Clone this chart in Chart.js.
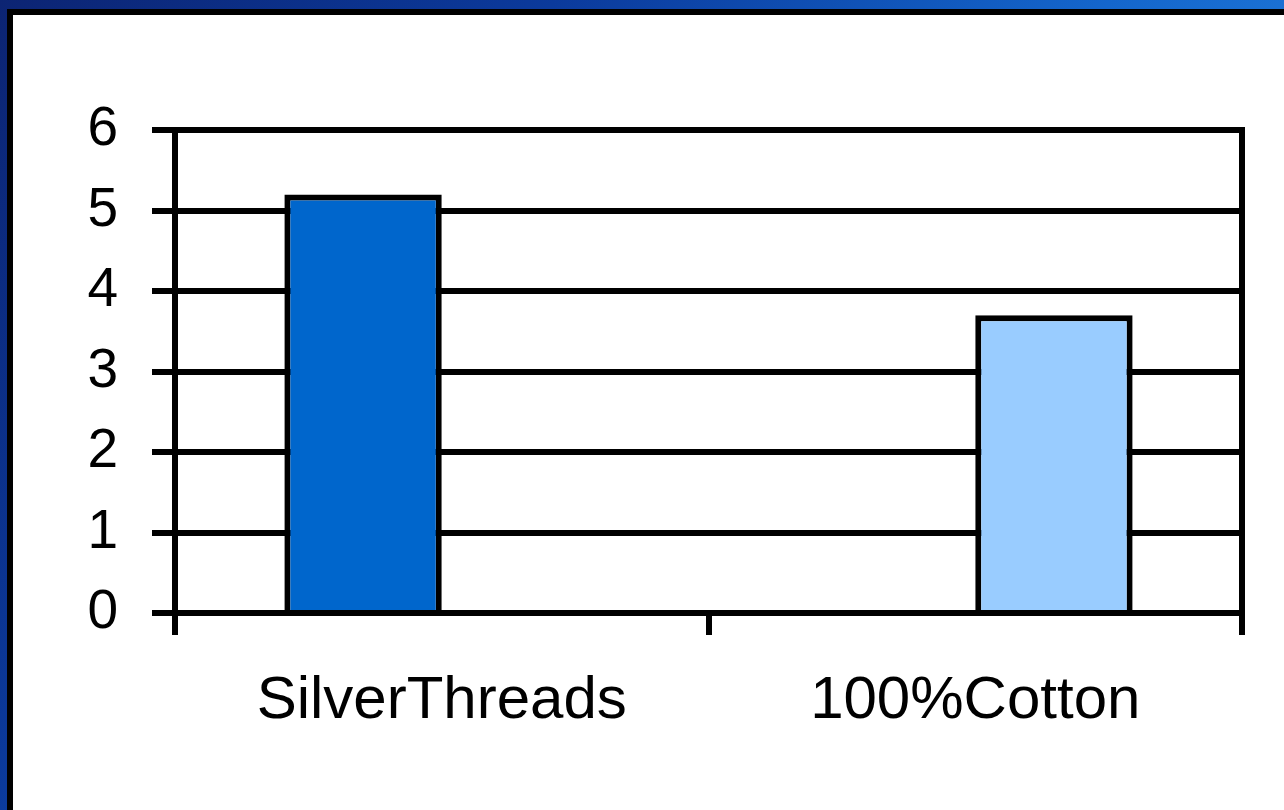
<!DOCTYPE html>
<html>
<head>
<meta charset="utf-8">
<script src="https://cdn.jsdelivr.net/npm/chart.js@4/dist/chart.umd.min.js"></script>
<style>
  html,body{margin:0;padding:0;width:1284px;height:810px;overflow:hidden;}
  body{background:linear-gradient(125deg,#0c2473 0%,#0b3a9c 30%,#1466cc 60%,#2e90ea 100%);position:relative;}
  #panel{position:absolute;left:7px;top:9px;width:1290px;height:820px;background:#fff;border:6px solid #000;box-sizing:border-box;}
  #c{position:absolute;left:0;top:0;}
</style>
</head>
<body>
<div id="panel"></div>
<canvas id="c" width="1284" height="810"></canvas>
<script>
const categories = ['SilverThreads', '100%Cotton'];
const silverValues = [5.2, null];
const cottonValues = [null, 3.7];
const yTicks = [0, 1, 2, 3, 4, 5, 6];

// right edge of the plot area (Excel-style frame)
const frameRight = {
  id: 'frameRight',
  afterDraw(chart){
    const a = chart.chartArea, ctx = chart.ctx;
    ctx.save();
    ctx.strokeStyle = '#000'; ctx.lineWidth = 6;
    ctx.beginPath(); ctx.moveTo(a.right, a.top - 3); ctx.lineTo(a.right, a.bottom); ctx.stroke();
    ctx.restore();
  }
};

const font = '"Liberation Sans", Arial, sans-serif';
new Chart(document.getElementById('c'), {
  type: 'bar',
  data: {
    labels: categories,
    datasets: [
      { label: 'SilverThreads', data: silverValues, backgroundColor: '#0066CC', borderColor: '#000', borderWidth: 6, borderSkipped: 'bottom' },
      { label: '100%Cotton', data: cottonValues, backgroundColor: '#99CCFF', borderColor: '#000', borderWidth: 6, borderSkipped: 'bottom' }
    ]
  },
  options: {
    responsive: false, animation: false,
    devicePixelRatio: 1,
    layout: { padding: { left: 0, right: 42, top: 130, bottom: 67 } },
    datasets: { bar: { categoryPercentage: 0.59, barPercentage: 1 } },
    plugins: { legend: { display: false }, tooltip: { enabled: false } },
    scales: {
      x: {
        afterFit(s){ s.height = 130; },
        grid: { offset: true, drawOnChartArea: false, color: '#000', lineWidth: 6, tickLength: 22 },
        border: { display: true, color: '#000', width: 6, z: 1 },
        ticks: { color: '#000', font: { family: font, size: 60 }, padding: 30, maxRotation: 0 }
      },
      y: {
        min: 0, max: 6,
        afterFit(s){ s.width = 175; },
        afterBuildTicks(s){ s.ticks = yTicks.map(v => ({ value: v })); },
        grid: { color: '#000', lineWidth: 6, tickLength: 23 },
        border: { display: true, color: '#000', width: 6 },
        ticks: { color: '#000', font: { family: font, size: 55 }, padding: 34 }
      }
    }
  },
  plugins: [frameRight]
});
</script>
</body>
</html>
